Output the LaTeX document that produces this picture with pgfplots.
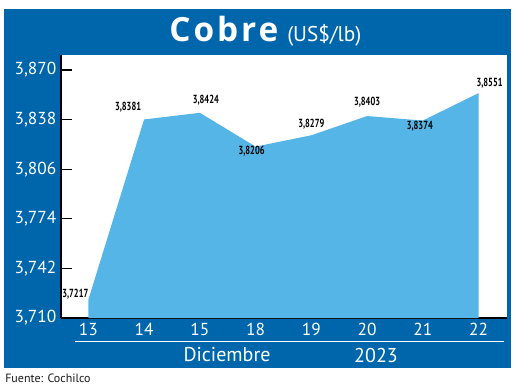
\documentclass[border=0pt]{standalone}
\usepackage{pgfplots}
\pgfplotsset{compat=1.18}
\usepackage{fontspec}
\setmainfont{PT Sans}
\newfontfamily\condfont[FakeStretch=0.72]{PT Sans}
\newfontfamily\titlefont[LetterSpace=9]{Open Sans}
\definecolor{darkblue}{RGB}{0,102,172}
\definecolor{areablue}{RGB}{85,181,230}
\begin{document}
\begin{tikzpicture}[x=0.75pt,y=0.75pt]
\fill[white] (0,0) rectangle (520,389);
\fill[darkblue] (4,21) rectangle (511,380);
\begin{axis}[
  at={(45.75pt,53.25pt)}, anchor=south west,
  scale only axis, width=334.5pt, height=197.25pt,
  xmin=-0.49, xmax=7.51, ymin=3.710, ymax=3.8797,
  axis x line*=bottom, axis y line*=left,
  axis line style={line width=1pt, black},
  axis background/.style={fill=white},
  xtick={0,...,7}, xticklabels={13,14,15,18,19,20,21,22},
  ytick={3.710,3.742,3.774,3.806,3.838,3.870},
  yticklabels={{3,710},{3,742},{3,774},{3,806},{3,838},{3,870}},
  tick align=inside, major tick length=8pt,
  x tick style={draw=none},
  y tick style={black, line width=1pt},
  ticklabel style={white, font=\fontsize{13}{13}\selectfont},
  /pgf/number format/assume math mode=true,
]
\addplot[fill=areablue, draw=none] coordinates {
 (0,3.7217) (1,3.8381) (2,3.8424) (3,3.8206) (4,3.8279) (5,3.8403) (6,3.8374) (7,3.8551)
} \closedcycle;
\begin{scope}[every node/.style={font=\condfont\bfseries\fontsize{8.8}{8.8}\selectfont, text=black, inner sep=0pt}]
\node[xshift=-9.75pt, yshift=4.5pt] at (axis cs:0,3.7217) {3,7217};
\node[xshift=-12pt, yshift=9pt] at (axis cs:1,3.8381) {3,8381};
\node[xshift=4.5pt, yshift=9.75pt] at (axis cs:2,3.8424) {3,8424};
\node[xshift=-3pt, yshift=-3.75pt] at (axis cs:3,3.8206) {3,8206};
\node[xshift=0pt, yshift=8.25pt] at (axis cs:4,3.8279) {3,8279};
\node[xshift=0pt, yshift=10.5pt] at (axis cs:5,3.8403) {3,8403};
\node[xshift=-2.25pt, yshift=-4.5pt] at (axis cs:6,3.8374) {3,8374};
\node[xshift=8.25pt, yshift=7.5pt] at (axis cs:7,3.8551) {3,8551};
\end{scope}
\end{axis}
\node[anchor=base west, inner sep=0pt, text=white] at (169,347) {\titlefont\bfseries\fontsize{25}{25}\selectfont Cobre};
\node[anchor=base west, inner sep=0pt, text=white] at (287,347) {\fontsize{16}{16}\selectfont (US\$/lb)};
\draw[white, line width=0.75pt] (75,48) -- (504,48);
\node[text=white, font=\fontsize{15}{15}\selectfont] at (227,34) {Diciembre};
\node[text=white, font=\fontsize{15}{15}\selectfont] at (376,34) {2023};
\node[anchor=west, inner sep=0pt, text=black!90, font=\fontsize{9}{9}\selectfont] at (5,11) {Fuente: Cochilco};
\end{tikzpicture}
\end{document}
